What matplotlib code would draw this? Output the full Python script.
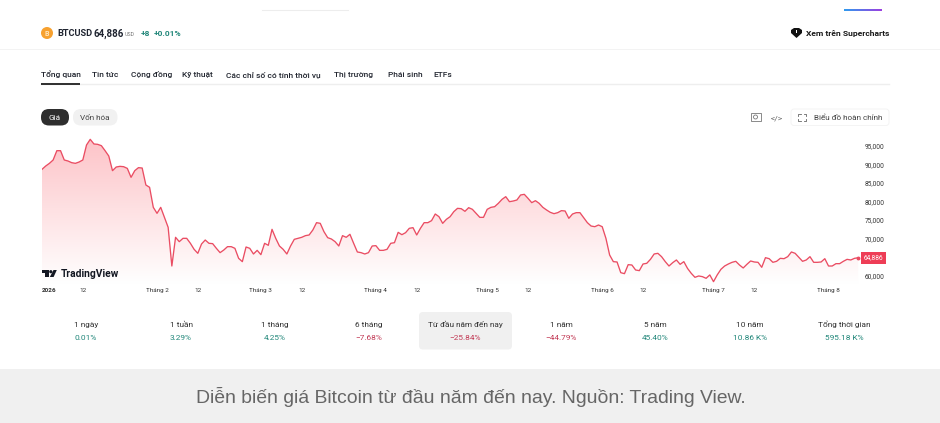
import numpy as np
import matplotlib
matplotlib.use("Agg")
import matplotlib.pyplot as plt
from matplotlib.colors import LinearSegmentedColormap
from matplotlib.patches import FancyBboxPatch, Polygon, Circle, Rectangle

# ---------- data ----------
prices = [
 88650,89540,90260,91160,93660,93660,91160,90890,90440,90260,90620,91160,95190,96710,95460,95370,
 95010,93660,92230,88290,89270,89450,89360,88900,86500,88290,89100,89000,84440,83810,78430,76820,
 78430,75750,73060,62660,70370,69200,70100,70100,68760,67140,66070,68580,69650,68760,68670,67410,
 66250,66960,67860,67860,67410,64720,63830,67770,67410,65890,66870,65710,68760,68220,72520,70100,
 68040,67140,65890,68040,69830,70100,70370,70820,71000,72340,74310,74130,71890,70280,69920,69200,
 68040,70820,70370,71180,68760,66430,66250,65890,66250,68040,68130,66870,66870,67140,68760,68930,
 71710,71080,71620,72790,72970,71000,72790,74310,74310,74850,76640,75920,74130,75210,75920,77270,
 78160,78070,77360,78340,77900,76820,75740,75740,77900,78430,78610,79510,80580,81300,79950,80130,
 80400,81750,81930,80850,79690,80220,79510,78430,77720,77090,76730,77000,77540,77450,75480,76640,
 77000,77000,75650,74310,73410,73230,73680,73230,70100,65620,63830,63740,60870,60600,63020,62930,
 61590,61410,63200,63380,64450,65890,66070,65170,63830,62660,63560,64280,63110,63830,62010,60690,
 59620,59980,59800,59350,60260,58450,60260,61770,62660,63200,63650,63920,62930,62130,63110,64010,
 63740,63650,62310,64900,64630,63650,63920,64720,64630,65170,66430,66070,64990,63920,64280,65170,
 63650,63650,63740,64630,62660,62660,63290,63290,63920,64450,64280,64720,64886]
y_ticks = [60000, 70000, 75000, 80000, 85000, 90000, 95000]
x_tick_days = [0, 11, 31, 42, 59, 70, 90, 101, 120, 131, 151, 162, 181, 192, 212]
x_tick_labels = ["2026", "12", "Tháng 2", "12", "Tháng 3", "12", "Tháng 4", "12",
                 "Tháng 5", "12", "Tháng 6", "12", "Tháng 7", "12", "Tháng 8"]
tabs = ["Tổng quan", "Tin tức", "Cộng đồng", "Kỹ thuật", "Các chỉ số có tính thời vụ",
        "Thị trường", "Phái sinh", "ETFs"]
tab_x = [41, 92, 131, 182, 226, 334.5, 387.5, 433.5]
periods = ["1 ngày", "1 tuần", "1 tháng", "6 tháng", "Từ đầu năm đến nay", "1 năm", "5 năm", "10 năm", "Tổng thời gian"]
returns = ["0.01%", "3.29%", "4.25%", "−7.68%", "−25.84%", "−44.79%", "45.40%", "10.86 K%", "595.18 K%"]
period_x = [86, 181, 275, 369, 465, 561, 655.5, 750, 844]
caption = "Diễn biến giá Bitcoin từ đầu năm đến nay. Nguồn: Trading View."

W, H = 940, 423
GREEN, RED = "#22877a", "#c23a55"
DARK = "#2a2e39"
FONT = "Roboto"
plt.rcParams["font.family"] = [FONT, "DejaVu Sans"]

fig = plt.figure(figsize=(W / 100, H / 100), dpi=100, facecolor="white")

# page layer in pixel coordinates
pg = fig.add_axes([0, 0, 1, 1], zorder=3)
pg.patch.set_alpha(0)
pg.set_xlim(0, W); pg.set_ylim(H, 0); pg.axis("off")

def T(x, y, s, size, color=DARK, ha="left", weight="normal", family=None):
    return pg.text(x, y + size * 0.36, s, fontsize=size * 0.72, color=color, ha=ha, va="baseline",
                   weight=weight, family=family or [FONT, "DejaVu Sans"])

def box(x0, y0, x1, y1, r, fc, ec="none"):
    pg.add_patch(FancyBboxPatch((x0 + r, y0 + r), x1 - x0 - 2 * r, y1 - y0 - 2 * r,
                                boxstyle=f"round,pad={r},rounding_size={r}", fc=fc, ec=ec, lw=0.6))

# top decoration
pg.plot([262, 348], [10.3, 10.3], color="#ededed", lw=0.8)
grad = np.linspace(0, 1, 64).reshape(1, -1)
pg.imshow(grad, extent=(844, 882, 11, 9.7), aspect="auto", zorder=2,
          cmap=LinearSegmentedColormap.from_list("g", ["#2f9bef", "#9c3fe0"]))
pg.set_xlim(0, W); pg.set_ylim(H, 0)

# header
pg.add_patch(Circle((47, 33), 6, fc="#f7a12f", ec="none"))
T(47, 33, "B", 7, "#ffe6bd", ha="center", weight="bold")
T(57, 33, "BTCUSD", 9.3, "#1f2430", weight="bold")
T(94, 33, "64,886", 9.8, "#1f2430", weight="bold")
T(124.5, 34.5, "USD", 5.2, "#777777")
T(141, 33, "+8", 8.4, GREEN, weight="bold")
T(154, 33, "+0.01%", 8.4, GREEN, weight="bold")
pg.add_patch(Polygon([(791, 30), (794, 28), (799, 28), (802, 30), (802, 33), (796.5, 38), (791, 33)], fc="#111111"))
pg.add_patch(Rectangle((796, 30), 1.2, 3, fc="white"))
T(806.5, 33, "Xem trên Supercharts", 8.45, "#1a1a1a", weight="bold")
pg.plot([0, W], [49.5, 49.5], color="#f3f3f3", lw=0.7)

# tabs
for x, s in zip(tab_x, tabs):
    T(x, 74, s, 8.35, "#20242e", weight="medium")
pg.plot([41, 889], [83.6, 83.6], color="#eeeeee", lw=1.0)
pg.plot([41, 80], [83.6, 83.6], color="#2e2e2e", lw=1.4, solid_capstyle="butt")

# pills & tool buttons
box(41, 109, 69, 125.5, 8, "#2e2e2e")
T(55, 117, "Giá", 8.2, "white", ha="center")
box(73, 109, 117.5, 125.5, 8, "#f1f1f1")
T(95, 117, "Vốn hóa", 8.2, "#444444", ha="center")
pg.add_patch(Rectangle((750.5, 113), 10, 8, fc="none", ec="#777777", lw=0.6))
pg.add_patch(Circle((755.5, 117), 2, fc="none", ec="#777777", lw=0.6))
T(777, 117, "</>", 8.5, "#666666", ha="center")
box(791, 109, 889, 125.5, 3, "white", "#f2f2f2")
for cx, cy, dx, dy in [(798, 114, 1, 1), (806, 114, -1, 1), (798, 121, 1, -1), (806, 121, -1, -1)]:
    pg.plot([cx + 2.5 * dx, cx, cx], [cy, cy, cy + 2 * dy], color="#666666", lw=0.6)
T(813.5, 117, "Biểu đồ hoàn chỉnh", 8.1, "#444444")

# chart axes, placed in pixels
AX_L, AX_R, AX_T, AX_B = 42, 860, 135, 284
ax = fig.add_axes([AX_L / W, 1 - AX_B / H, (AX_R - AX_L) / W, (AX_B - AX_T) / H], zorder=2)
ax.patch.set_alpha(0)
for s in ax.spines.values():
    s.set_visible(False)

def v_at(px):
    return 95000 - (px - 145.7) * 5000 / 18.6

days = np.arange(len(prices))
ax.set_xlim(0, (AX_R - AX_L) / 3.71)
ax.set_ylim(v_at(AX_B), v_at(AX_T))

cmap = LinearSegmentedColormap.from_list("fade", ["#fdc0c5", "#fee0e2", "#ffffff"])
img = ax.imshow(np.linspace(0, 1, 256).reshape(-1, 1), extent=(0, days[-1], v_at(AX_B), v_at(AX_T) + 600),
                origin="upper", aspect="auto", cmap=cmap, zorder=1)
fill = ax.fill_between(days, prices, v_at(AX_B), color="none")
img.set_clip_path(fill.get_paths()[0], transform=ax.transData)
ax.set_xlim(0, (AX_R - AX_L) / 3.71)
ax.set_ylim(v_at(AX_B), v_at(AX_T))
ax.plot(days, prices, color="#ea4d63", lw=0.95, zorder=3, solid_joinstyle="round")
ax.plot([days[-1]], [prices[-1]], marker="o", ms=1.8, color="#ea4d63", zorder=3)

ax.yaxis.tick_right()
ax.set_yticks(y_ticks, [f"{v:,}" for v in y_ticks])
ax.set_xticks(x_tick_days, x_tick_labels)
ax.tick_params(axis="y", length=0, pad=3.6, labelsize=4.7, labelcolor="#333333")
ax.tick_params(axis="x", length=0, pad=3.0, labelsize=4.6, labelcolor="#333333")
ax.get_xticklabels()[0].set_ha("left")
ax.get_xticklabels()[0].set_weight("bold")

# last-price tag
ax.annotate(f"{prices[-1]:,}", xy=(1, prices[-1]), xycoords=("axes fraction", "data"),
            xytext=(13.5, -0.3), textcoords="offset pixels", ha="center", va="center",
            fontsize=4.7, color="white", annotation_clip=False,
            bbox=dict(boxstyle="square,pad=0.42", fc="#ee3d56", ec="none"))

# TradingView watermark
pg.add_patch(Polygon([(42, 270), (48.5, 270), (48.5, 277), (45.2, 277), (45.2, 272.8), (42, 272.8)], fc="#131722", zorder=3))
pg.add_patch(Circle((50.8, 271.7), 1.6, fc="#131722", zorder=3))
pg.add_patch(Polygon([(53.5, 270), (56.8, 270), (53.6, 277), (49.8, 277)], fc="#131722", zorder=3))
T(60.5, 273.2, "TradingView", 10.2, "#131722", weight="bold", family=["Roboto", "DejaVu Sans"]).set_zorder(3)

# performance row
box(419, 312, 512, 349.5, 4, "#f0f0f0")
for x, p, r in zip(period_x, periods, returns):
    T(x, 324.3, p, 8.3, "#333333", ha="center")
    T(x, 336.6, r, 8.3, RED if r.startswith("−") else GREEN, ha="center")

# caption band
pg.add_patch(Rectangle((0, 369), W, H - 369, fc="#f0f0f0", ec="none"))
T(471, 396.5, caption, 19.4, "#666666", ha="center", family=["Liberation Sans"])

fig.savefig("out.png", dpi=100, facecolor="white")
